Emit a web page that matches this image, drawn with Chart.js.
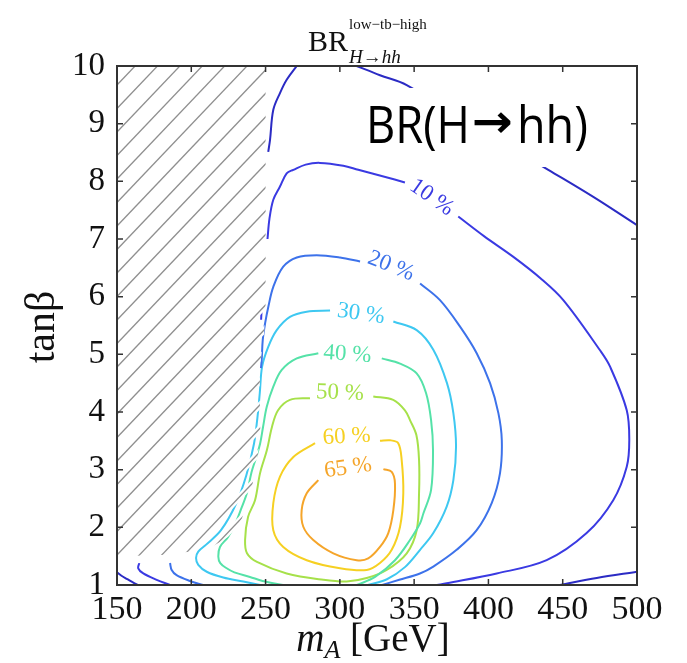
<!DOCTYPE html>
<html lang="en">
<head>
<meta charset="UTF-8">
<title>BR(H→hh) contours</title>
<script src="https://cdn.jsdelivr.net/npm/chart.js"></script>
<style>
    html, body { margin: 0; background: #fff; }
    canvas { display: block; }
</style>
</head>
<body>
<canvas id="brChart" width="687" height="663"></canvas>
<script>
// contour pieces as [mA, tanb] pairs
const br05Left   = [[150,1.22],[153,1.16],[157,1.10],[161,1.04],[164,1.0]];
const br05Top    = [[251.8,8.51],[253.0,8.72],[255.2,9.24],[259.7,9.53],[264.2,9.76],[271.0,10.0]];
const br05Right  = [[311.3,10.0],[327.0,9.84],[345.0,9.67],[440.3,8.20],[470.6,7.73],[500,7.24]];
const br05Bottom = [[448.2,1.0],[472.9,1.12],[500,1.23]];

const br10Dash  = [[247.0,5.60],[247.4,5.82]];
const br10Upper = [[251.3,7.0],[252.6,7.35],[255.2,7.68],[259.7,7.91],[264.2,8.14],
                   [268.7,8.20],[277,8.29],[286.6,8.32],[302.3,8.27],[312.4,8.20],[330,8.08],[343.8,7.98]];
const br10Outer = [[379.7,7.39],[397,7.05],[416.8,6.69],[435,6.32],[450.4,5.94],[475.1,5.07],[481.8,4.79],
                   [493.1,4.03],[494.8,3.51],[493.1,3.05],[484.0,2.47],[466.1,1.90],[439.2,1.43],[405.6,1.20],
                   [371.9,1.03],[365.4,1.0]];
const br10Hook  = [[165.0,1.38],[164.3,1.29],[167.7,1.20],[176.7,1.09],[185.7,1.0]];

const br20Upper = [[246.9,4.76],[247.4,4.90],[248.1,5.25],[249.7,5.54],[251.9,5.83],[255.2,6.17],[261.9,6.52],
                   [271.0,6.68],[284.4,6.72],[300.1,6.68],[313.6,6.61]];
const br20Outer = [[354.0,6.23],[367.4,5.94],[380.9,5.48],[392.1,5.02],[401.1,4.50],[406.7,3.98],[409.0,3.51],
                   [407.8,2.94],[402.2,2.42],[392.1,1.95],[378.6,1.61],[362.9,1.32],[353.9,1.20],[340,1.09],[328.5,1.0]];
const br20Hook  = [[185.7,1.38],[186.8,1.26],[190.1,1.17],[199.1,1.07],[207.9,1.0]];

const br30Left  = [[246.3,1.0],[235.0,1.06],[221.5,1.13],[210.4,1.23],[204.7,1.35],[203.2,1.47],[204.7,1.58],
                   [210,1.70],[220,1.95],[230,2.40],[237,2.90],[242.2,3.45],[244.5,3.90],[246.1,4.33],
                   [247.7,4.79],[251.8,5.13],[257.5,5.42],[266.4,5.65],[277.7,5.74],[293.4,5.76]];
const br30Right = [[336.0,5.57],[351.7,5.42],[362.9,5.08],[372.1,4.50],[376.4,3.98],[378.2,3.40],[376.4,2.82],
                   [371.9,2.36],[362.9,1.90],[354.0,1.61],[343.8,1.31],[331.7,1.10],[318.9,1.0]];

const br40Left  = [[261.7,1.0],[248,1.07],[239.5,1.14],[229,1.22],[223.8,1.29],[219.5,1.38],[218.2,1.49],
                   [219.3,1.66],[224.7,1.83],[229.4,2.05],[234,2.35],[237.5,2.60],[240.5,2.95],[243.5,3.20],
                   [246.3,3.45],[248.3,3.74],[250.8,4.09],[255.2,4.44],[260.9,4.73],[271.0,4.93],[285.5,5.02]];
const br40Right = [[328.2,4.93],[340.5,4.84],[351.7,4.67],[358.0,4.33],[361.4,3.86],[362.7,3.34],[361.4,2.65],
                   [356.2,2.24],[354.0,2.07],[347.2,1.78],[337.1,1.43],[323.7,1.14],[311.5,1.0]];

const br50 = [[322.5,4.27],[335.9,4.21],[343.8,4.03],[347.2,3.86],[351.5,3.60],[353.3,3.17],[353.3,2.59],
              [351.7,1.95],[345.0,1.55],[331.5,1.26],[318.1,1.12],[304.6,1.06],[288.9,1.09],[264.2,1.20],
              [244.2,1.40],[237.5,1.55],[236.2,1.78],[238.2,2.18],[242.9,2.47],[246.3,2.94],[250.9,3.34],
              [254.3,3.74],[258.4,4.03],[266.4,4.21],[279.9,4.24]];

const br60 = [[327.0,3.50],[333.8,3.51],[339.3,3.46],[341.6,3.17],[342.7,2.59],[340.5,2.01],[334.9,1.61],
              [327.0,1.38],[318.1,1.26],[300.1,1.29],[277.7,1.43],[261.9,1.66],[255.2,1.95],[255.2,2.42],
              [259.7,2.88],[268.7,3.22],[283.3,3.46]];

const br65 = [[329.3,3.01],[334.9,2.96],[337.1,2.76],[336.0,2.30],[332.6,1.90],[327.0,1.66],[319.1,1.46],
              [311.3,1.43],[295.6,1.55],[282.1,1.78],[275.4,2.01],[274.3,2.30],[277.7,2.59],[285.5,2.82]];

// inline contour labels
const labelText = ['10 %', '20 %', '30 %', '40 %', '50 %', '60 %', '65 %'];
const labelMA   = [361.8, 334.4, 314.2, 305.1, 300.1, 304.5, 305.5];
const labelTanb = [7.72, 6.53, 5.70, 5.00, 4.33, 3.57, 3.03];

// hatched (excluded) region outline
const hatchMA   = [150, 250, 250, 249, 246.5, 246, 246.5, 244, 240, 234, 226, 215, 200, 180, 150];
const hatchTanb = [10, 10, 5.9, 5.35, 4.85, 4.4, 3.6, 3.1, 2.6, 2.15, 1.85, 1.68, 1.58, 1.52, 1.5];

const colors = {
    b05: '#2b2bc4', b10: '#3a3ae2', b20: '#3d72ea', b30: '#3ec8f1',
    b40: '#55e2a8', b50: '#a6e14a', b60: '#f6d022', b65: '#f5a52a'
};
const labelColors = [colors.b10, colors.b20, colors.b30, colors.b40, colors.b50, colors.b60, colors.b65];
const labelAngles = [35, 22, 8, 4, 2, -3, -8];

function joinPieces(list) {
    const out = [];
    list.forEach((arr, i) => {
        if (i > 0) out.push({ x: arr[0][0], y: null });
        arr.forEach(p => out.push({ x: p[0], y: p[1] }));
    });
    return out;
}

function contour(pieces, color) {
    return {
        data: joinPieces(pieces),
        borderColor: color,
        borderWidth: 2,
        pointRadius: 0,
        showLine: true,
        spanGaps: false,
        tension: 0.35,
        fill: false
    };
}

const serif = '"Liberation Serif", "Times New Roman", serif';
const sans = '"Open Sans", "Noto Sans", sans-serif';

// draws a string squeezed/stretched to a given width
function fitText(ctx, text, left, base, width) {
    const w = ctx.measureText(text).width;
    ctx.save();
    ctx.translate(left, base);
    ctx.scale(width / w, 1);
    ctx.fillText(text, 0, 0);
    ctx.restore();
}

const decor = {
    id: 'decor',
    afterDatasetsDraw(chart) {
        const { ctx, chartArea: a, scales: { x, y } } = chart;

        // hatch, white halo first so the contours look dashed underneath
        ctx.save();
        ctx.beginPath();
        hatchMA.forEach((m, i) => {
            const px = x.getPixelForValue(m), py = y.getPixelForValue(hatchTanb[i]);
            if (i === 0) ctx.moveTo(px, py); else ctx.lineTo(px, py);
        });
        ctx.closePath();
        ctx.clip();
        const ox = x.getPixelForValue(150), oy = y.getPixelForValue(1.52);
        const slope = 1.05, gap = 23.5;
        const drawHatch = () => {
            for (let k = -40; k <= 10; k++) {
                const x1 = a.left - 30, x2 = a.right;
                ctx.beginPath();
                ctx.moveTo(x1, oy - slope * (x1 - ox) + k * gap);
                ctx.lineTo(x2, oy - slope * (x2 - ox) + k * gap);
                ctx.stroke();
            }
        };
        ctx.strokeStyle = '#fff';
        ctx.lineWidth = 6;
        drawHatch();
        ctx.strokeStyle = '#8f8f8f';
        ctx.lineWidth = 1.3;
        drawHatch();
        ctx.restore();

        // contour labels
        ctx.save();
        ctx.font = '23px ' + serif;
        ctx.textAlign = 'center';
        ctx.textBaseline = 'middle';
        labelText.forEach((t, i) => {
            ctx.save();
            ctx.translate(x.getPixelForValue(labelMA[i]), y.getPixelForValue(labelTanb[i]));
            ctx.rotate(labelAngles[i] * Math.PI / 180);
            ctx.fillStyle = labelColors[i];
            ctx.fillText(t, 0, 0);
            ctx.restore();
        });
        ctx.restore();

        // pasted-in annotation
        ctx.save();
        ctx.fillStyle = '#fff';
        ctx.fillRect(358, 88, 245, 79);
        ctx.fillStyle = '#000';
        ctx.textBaseline = 'alphabetic';
        ctx.font = '52px ' + sans;
        fitText(ctx, 'BR(H', 366, 143, 104);
        fitText(ctx, 'hh)', 517, 143, 71);
        ctx.font = 'bold 46px "DejaVu Sans", sans-serif';
        fitText(ctx, '\u2192', 472, 137, 41);
        ctx.restore();

        // frame and inward ticks on all four sides
        ctx.save();
        ctx.strokeStyle = '#333';
        ctx.lineWidth = 1.5;
        for (let v = 200; v < 500; v += 50) {
            const px = x.getPixelForValue(v);
            ctx.beginPath();
            ctx.moveTo(px, a.bottom); ctx.lineTo(px, a.bottom - 6);
            ctx.moveTo(px, a.top); ctx.lineTo(px, a.top + 6);
            ctx.stroke();
        }
        for (let v = 2; v < 10; v++) {
            const py = y.getPixelForValue(v);
            ctx.beginPath();
            ctx.moveTo(a.left, py); ctx.lineTo(a.left + 6, py);
            ctx.moveTo(a.right, py); ctx.lineTo(a.right - 6, py);
            ctx.stroke();
        }
        ctx.lineWidth = 2;
        ctx.strokeRect(a.left, a.top, a.right - a.left, a.bottom - a.top);
        ctx.restore();

        // titles
        ctx.save();
        ctx.fillStyle = '#111';
        ctx.textBaseline = 'alphabetic';
        ctx.font = '30px ' + serif;
        ctx.fillText('BR', 308, 51);
        ctx.font = '15px ' + serif;
        ctx.fillText('low\u2212tb\u2212high', 349, 29);
        ctx.font = 'italic 19px ' + serif;
        ctx.fillText('H\u2192hh', 349, 63);

        // x title: m_A [GeV]
        const big = 39, small = 26;
        ctx.font = 'italic ' + big + 'px ' + serif;
        const wm = ctx.measureText('m').width;
        ctx.font = 'italic ' + small + 'px ' + serif;
        const wa = ctx.measureText('A').width;
        ctx.font = big + 'px ' + serif;
        const wg = ctx.measureText(' [GeV]').width;
        const sx = 373 - (wm + wa + wg) / 2;
        ctx.font = 'italic ' + big + 'px ' + serif;
        ctx.fillText('m', sx, 651);
        ctx.font = 'italic ' + small + 'px ' + serif;
        ctx.fillText('A', sx + wm, 658);
        ctx.font = big + 'px ' + serif;
        ctx.fillText(' [GeV]', sx + wm + wa, 651);

        // y title
        ctx.translate(54, 327);
        ctx.rotate(-Math.PI / 2);
        ctx.textAlign = 'center';
        ctx.font = '42px ' + serif;
        ctx.fillText('tan\u03b2', 0, 0);
        ctx.restore();
    }
};

new Chart(document.getElementById('brChart'), {
    type: 'scatter',
    data: {
        datasets: [
            contour([br05Left, br05Top, br05Right, br05Bottom], colors.b05),
            contour([br10Dash, br10Upper, br10Outer, br10Hook], colors.b10),
            contour([br20Upper, br20Outer, br20Hook], colors.b20),
            contour([br30Left, br30Right], colors.b30),
            contour([br40Left, br40Right], colors.b40),
            contour([br50], colors.b50),
            contour([br60], colors.b60),
            contour([br65], colors.b65)
        ]
    },
    options: {
        responsive: false,
        animation: false,
        devicePixelRatio: 1,
        layout: { padding: { top: 66, right: 50, left: 0, bottom: 0 } },
        plugins: { legend: { display: false }, tooltip: { enabled: false } },
        scales: {
            x: {
                type: 'linear', min: 150, max: 500,
                ticks: { stepSize: 50, autoSkip: false, maxRotation: 0, padding: 5,
                         color: '#111', font: { family: serif, size: 34 } },
                grid: { display: false, drawTicks: false },
                border: { display: false },
                afterFit(s) { s.height = 78; }
            },
            y: {
                type: 'linear', min: 1, max: 10,
                ticks: { stepSize: 1, autoSkip: false, padding: 12,
                         color: '#111', font: { family: serif, size: 33 } },
                grid: { display: false, drawTicks: false },
                border: { display: false },
                afterFit(s) { s.width = 117; }
            }
        }
    },
    plugins: [decor]
});
</script>
</body>
</html>
